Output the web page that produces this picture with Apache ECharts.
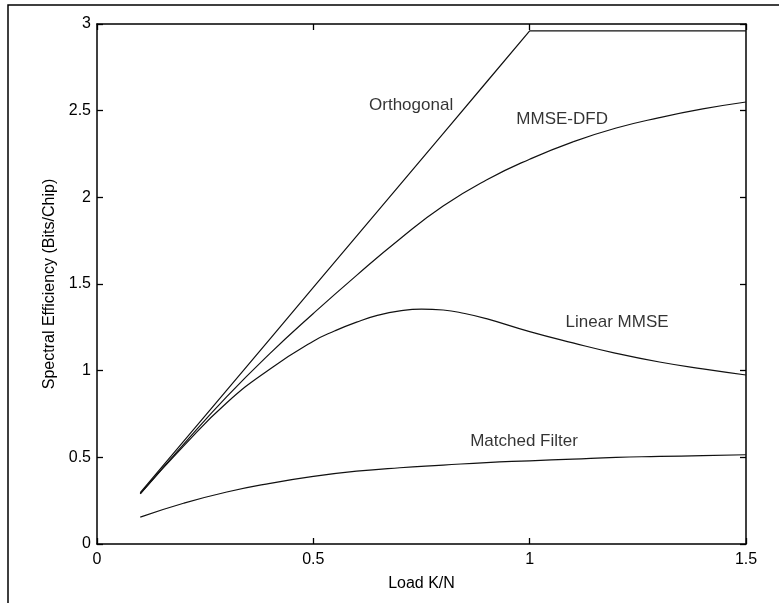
<!DOCTYPE html>
<html>
<head>
<meta charset="utf-8">
<script src="https://cdn.jsdelivr.net/npm/echarts@6/dist/echarts.min.js"></script>
<style>html,body{margin:0;padding:0;background:#fff}#c{width:779px;height:603px}</style>
</head>
<body>
<div id="c"></div>
<script>
var loads = [0.1,0.2,0.3,0.4,0.5,0.6,0.7,0.8,0.9,1.0,1.1,1.2,1.3,1.4,1.5];
var orthogonal = [0.296,0.592,0.888,1.184,1.48,1.776,2.072,2.368,2.664,2.96,2.96,2.96,2.96,2.96,2.96];
var mmseDfd = [0.29,0.575,0.85,1.10,1.33,1.55,1.76,1.95,2.10,2.22,2.32,2.40,2.46,2.51,2.55];
var linearLoads = [0.1,0.2,0.3,0.4,0.5,0.55,0.6,0.65,0.7,0.75,0.8,0.85,0.9,1.0,1.1,1.2,1.3,1.4,1.5];
var linearMmse = [0.29,0.565,0.815,1.01,1.17,1.23,1.28,1.32,1.345,1.355,1.35,1.33,1.30,1.225,1.16,1.10,1.05,1.01,0.975];
var matchedFilter = [0.155,0.235,0.30,0.35,0.39,0.42,0.44,0.455,0.47,0.48,0.49,0.50,0.505,0.51,0.515];
var xTicks = ['0','0.5','1','1.5'];
var yTicks = ['0','0.5','1','1.5','2','2.5','3'];
var annotations = [
  {text:'Orthogonal', x:0.726, y:2.53},
  {text:'MMSE-DFD', x:1.075, y:2.45},
  {text:'Linear MMSE', x:1.202, y:1.28},
  {text:'Matched Filter', x:0.987, y:0.594}
];

function pairs(xs, v){ return xs.map(function(x,i){ return [x, v[i]]; }); }
var FONT = 'Liberation Sans';
var lineStyle = {color:'#111', width:1.2};
function ser(name, xs, vals, smooth){
  return {name:name, type:'line', data:pairs(xs, vals), showSymbol:false, smooth:smooth,
    lineStyle:lineStyle, animation:false, xAxisIndex:0, yAxisIndex:0};
}
var axisBase = {type:'value', splitLine:{show:false},
  axisLine:{show:true, onZero:false, lineStyle:{color:'#000', width:1.5}},
  axisTick:{show:true, inside:true, length:6, lineStyle:{color:'#000', width:1.3}}};

var chart = echarts.init(document.getElementById('c'), null, {renderer:'canvas'});
chart.setOption({
  backgroundColor:'#fff',
  animation:false,
  grid:{left:97, top:24, width:649, height:520},
  graphic:[{type:'polyline', shape:{points:[[8,603],[8,5],[779,5]]}, style:{stroke:'#000', lineWidth:1.5, fill:null}}],
  xAxis:[
    Object.assign({}, axisBase, {position:'bottom', min:0, max:1.5, interval:0.5,
      name:'Load K/N', nameLocation:'middle', nameGap:32,
      nameTextStyle:{fontFamily:FONT, fontSize:16, color:'#000'},
      axisLabel:{margin:8, fontFamily:FONT, fontSize:16, color:'#000',
        formatter:function(v){ return xTicks[Math.round(v/0.5)]; }}}),
    Object.assign({}, axisBase, {position:'top', min:0, max:1.5, interval:0.5, axisLabel:{show:false}})
  ],
  yAxis:[
    Object.assign({}, axisBase, {position:'left', min:0, max:3, interval:0.5,
      name:'Spectral Efficiency (Bits/Chip)', nameLocation:'middle', nameGap:37,
      nameTextStyle:{fontFamily:FONT, fontSize:16, color:'#000'},
      axisLabel:{margin:6, fontFamily:FONT, fontSize:16, color:'#000',
        formatter:function(v){ return yTicks[Math.round(v/0.5)]; }}}),
    Object.assign({}, axisBase, {position:'right', min:0, max:3, interval:0.5, axisLabel:{show:false}})
  ],
  series:[
    ser('Orthogonal', loads, orthogonal, false),
    ser('MMSE-DFD', loads, mmseDfd, 0.5),
    ser('Linear MMSE', linearLoads, linearMmse, 0.5),
    ser('Matched Filter', loads, matchedFilter, 0.5),
    {type:'scatter', symbolSize:0, animation:false, silent:true,
      data:annotations.map(function(a){ return {value:[a.x,a.y], name:a.text}; }),
      label:{show:true, position:'inside', formatter:'{b}', fontFamily:FONT, fontSize:17, color:'#000'}}
  ]
});
</script>
</body>
</html>
